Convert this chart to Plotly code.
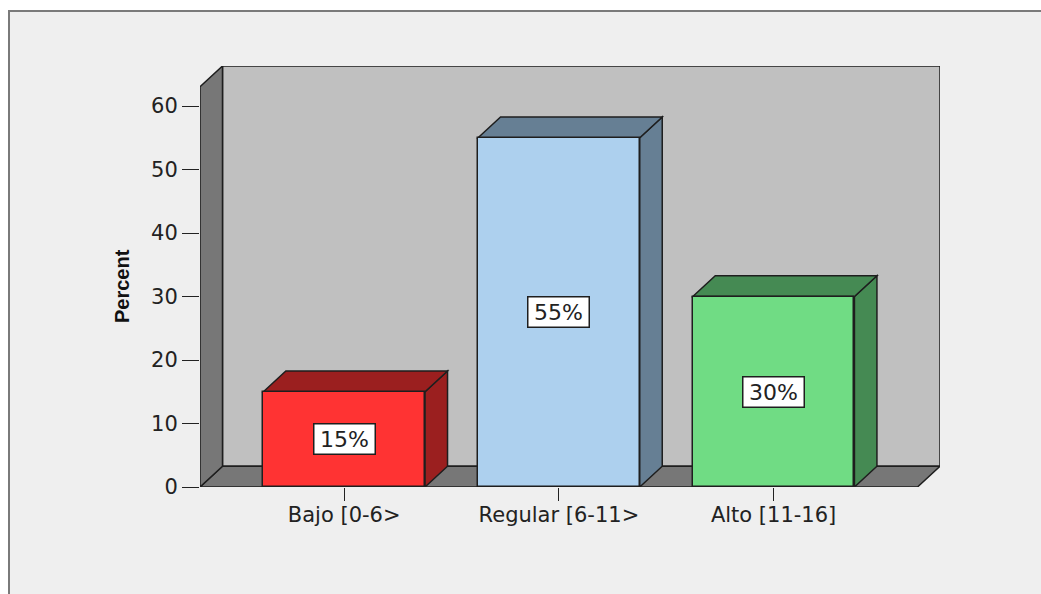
import plotly.graph_objects as go

# ---- data ----
categories = ["Bajo [0-6>", "Regular [6-11>", "Alto [11-16]"]
percent = [15, 55, 30]
front_colors = ["#ff3333", "#add0ee", "#70dc84"]
side_colors = ["#9b1f1f", "#667f94", "#458a53"]
y_ticks = [0, 10, 20, 30, 40, 50, 60]

# ---- geometry (axis ranges / 3D depth) ----
W, H = 1041, 594
ML, MR, MT, MB = 200, 101, 66, 107
PW, PH = W - ML - MR, H - MT - MB
X0, X1 = -0.6716, 2.775
Y0, Y1 = 0.0, 66.3
DX = 22.5 * (X1 - X0) / PW     # depth offset in x units
DY = 20.8 * (Y1 - Y0) / PH     # depth offset in y units
BW = 0.753                      # bar width
EDGE = dict(color="#1e1e1e", width=1.5)

xs = list(range(len(categories)))


def poly(pts):
    return "M " + " L ".join(f"{a},{b}" for a, b in pts) + " Z"


def px2paper_x(px):
    return (px - ML) / PW


def px2paper_y(py):
    return (H - MB - py) / PH


shapes = []
# outer frame / background
shapes.append(dict(type="rect", xref="paper", yref="paper", layer="below",
                   x0=px2paper_x(9), x1=px2paper_x(1070),
                   y0=px2paper_y(620), y1=px2paper_y(11),
                   fillcolor="#efefef", line=dict(color="#7a7a7a", width=2)))
# back wall
shapes.append(dict(type="path", xref="x", yref="y", layer="below",
                   path=poly([(X0 + DX, DY), (X1, DY), (X1, Y1), (X0 + DX, Y1)]),
                   fillcolor="#c0c0c0", line=EDGE))
# floor
shapes.append(dict(type="path", xref="x", yref="y", layer="below",
                   path=poly([(X0, 0), (X1 - DX, 0), (X1, DY), (X0 + DX, DY)]),
                   fillcolor="#777777", line=EDGE))
# left wall
shapes.append(dict(type="path", xref="x", yref="y", layer="below",
                   path=poly([(X0, 0), (X0, Y1 - DY), (X0 + DX, Y1), (X0 + DX, DY)]),
                   fillcolor="#777777", line=EDGE))

# bar side and top faces
for x, v, sc in zip(xs, percent, side_colors):
    xl, xr = x - BW / 2, x + BW / 2
    shapes.append(dict(type="path", xref="x", yref="y", layer="below",
                       path=poly([(xr, 0), (xr + DX, DY), (xr + DX, v + DY), (xr, v)]),
                       fillcolor=sc, line=EDGE))
    shapes.append(dict(type="path", xref="x", yref="y", layer="below",
                       path=poly([(xl, v), (xl + DX, v + DY), (xr + DX, v + DY), (xr, v)]),
                       fillcolor=sc, line=EDGE))

fig = go.Figure()
fig.add_trace(go.Bar(
    x=xs, y=percent, width=BW,
    marker=dict(color=front_colors, line=EDGE),
    hoverinfo="skip", showlegend=False,
))

annotations = []
for x, v in zip(xs, percent):
    annotations.append(dict(
        x=x, y=v / 2, xref="x", yref="y", text=f"{v}%", showarrow=False,
        font=dict(family="DejaVu Sans", size=22, color="#222222"),
        bgcolor="#ffffff", bordercolor="#1e1e1e", borderwidth=1.5,
        borderpad=1, width=58, height=27,
    ))
annotations.append(dict(
    x=px2paper_x(122), y=px2paper_y(286), xref="paper", yref="paper",
    xanchor="center", yanchor="middle",
    text="<b>Percent</b>", showarrow=False, textangle=-90,
    font=dict(family="Liberation Sans, Arial", size=20, color="#111111"),
))

fig.update_layout(
    width=W, height=H,
    margin=dict(l=ML, r=MR, t=MT, b=MB, pad=0),
    paper_bgcolor="#ffffff", plot_bgcolor="#efefef",
    shapes=shapes, annotations=annotations,
    xaxis=dict(range=[X0, X1], tickvals=xs, ticktext=categories,
               showgrid=False, zeroline=False, showline=False,
               ticks="outside", ticklen=13, tickwidth=1.3, tickcolor="#222222",
               ticklabelstandoff=-4,
               tickfont=dict(family="DejaVu Sans", size=21, color="#222222")),
    yaxis=dict(range=[Y0, Y1], tickvals=y_ticks,
               showgrid=False, zeroline=False, showline=False,
               ticks="outside", ticklen=17, tickwidth=1.3, tickcolor="#222222",
               tickfont=dict(family="DejaVu Sans", size=21, color="#222222")),
    bargap=0,
)

fig.write_html("out.html")
